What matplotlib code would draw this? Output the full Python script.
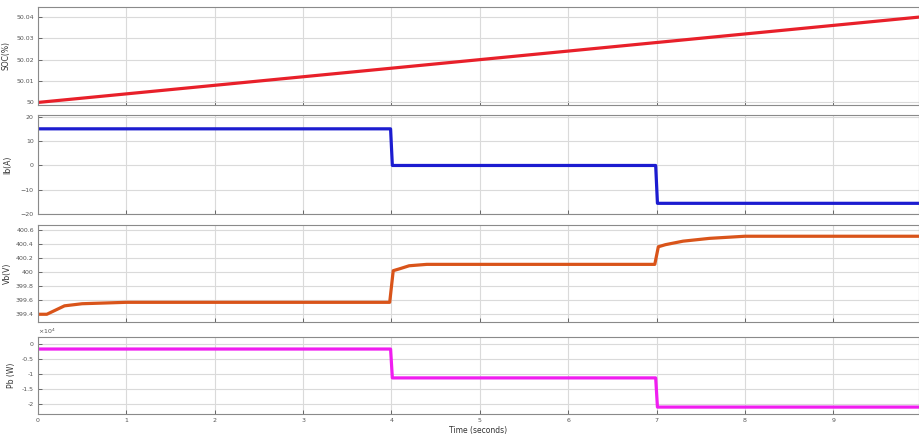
import numpy as np
import matplotlib
matplotlib.use("Agg")
import matplotlib.pyplot as plt

# scope signals, 0..10 s
t_soc = [0.0, 10.0]
soc = [50.0, 50.04]

t_ib = [0.0, 3.99, 4.01, 6.99, 7.01, 10.0]
ib = [15.1, 15.1, 0.0, 0.0, -15.6, -15.6]

t_vb = [0.0, 0.1, 0.2, 0.3, 0.5, 1.0, 3.98, 4.02, 4.1, 4.2, 4.4, 6.98, 7.02,
        7.1, 7.3, 7.6, 8.0, 10.0]
vb = [399.40, 399.40, 399.46, 399.52, 399.55, 399.57, 399.57, 400.02,
      400.05, 400.09, 400.11, 400.11, 400.36, 400.39, 400.44, 400.48,
      400.51, 400.51]

t_pb = [0.0, 3.99, 4.01, 6.99, 7.01, 10.0]
pb = [-0.17, -0.17, -1.13, -1.13, -2.1, -2.1]  # x 10^4

soc_ticks = [50.0, 50.01, 50.02, 50.03, 50.04]
soc_labels = ["50", "50.01", "50.02", "50.03", "50.04"]
ib_ticks = [-20, -10, 0, 10, 20]
vb_ticks = [399.4, 399.6, 399.8, 400.0, 400.2, 400.4, 400.6]
vb_labels = ["399.4", "399.6", "399.8", "400", "400.2", "400.4", "400.6"]
pb_ticks = [-2, -1.5, -1, -0.5, 0]
pb_labels = ["-2", "-1.5", "-1", "-0.5", "0"]
x_ticks = list(range(0, 10))

W, H = 920, 440
fig = plt.figure(figsize=(9.2, 4.4), dpi=100)


def make_ax(top, bottom, left=38, right=919):
    return fig.add_axes([left / W, 1 - bottom / H, (right - left) / W,
                         (bottom - top) / H])


def style(ax, show_x=False):
    ax.set_xlim(0, 9.97)
    ax.set_xticks(x_ticks)
    ax.grid(True, color="#dadada", lw=0.8)
    ax.set_axisbelow(True)
    for s in ax.spines.values():
        s.set_color("#8a8a8a")
        s.set_linewidth(0.8)
    ax.tick_params(direction="in", length=3, width=0.6, colors="#555555",
                   labelsize=4.5, pad=3)
    if not show_x:
        ax.tick_params(labelbottom=False)


ax1 = make_ax(7, 105)
ax1.plot(t_soc, soc, color="#e8202a", lw=2.3)
ax1.set_ylim(49.9988, 50.0446)
ax1.set_yticks(soc_ticks)
ax1.set_yticklabels(soc_labels)
ax1.set_ylabel("SOC(%)", fontsize=5.5, color="#333333", labelpad=4)
style(ax1)

ax2 = make_ax(115, 214)
ax2.plot(t_ib, ib, color="#1c1cd0", lw=2.3)
ax2.set_ylim(-20.0, 20.8)
ax2.set_yticks(ib_ticks)
ax2.set_ylabel("Ib(A)", fontsize=5.5, color="#333333", labelpad=6)
style(ax2)

ax3 = make_ax(225, 322)
ax3.plot(t_vb, vb, color="#d9541a", lw=2.3)
ax3.set_ylim(399.29, 400.67)
ax3.set_yticks(vb_ticks)
ax3.set_yticklabels(vb_labels)
ax3.set_ylabel("Vb(V)", fontsize=5.5, color="#333333", labelpad=3)
style(ax3)

ax4 = make_ax(337, 414)
ax4.plot(t_pb, pb, color="#f01ef0", lw=2.3)
ax4.set_ylim(-2.33, 0.23)
ax4.set_yticks(pb_ticks)
ax4.set_yticklabels(pb_labels)
ax4.set_ylabel("Pb (W)", fontsize=5.5, color="#333333", labelpad=4)
ax4.text(0.0, 1.01, r"$\times10^4$", transform=ax4.transAxes, fontsize=4.5,
         color="#555555", ha="left", va="bottom")
style(ax4, show_x=True)
ax4.set_xlabel("Time (seconds)", fontsize=5.5, color="#333333", labelpad=2)

fig.savefig("out.png", dpi=100)
